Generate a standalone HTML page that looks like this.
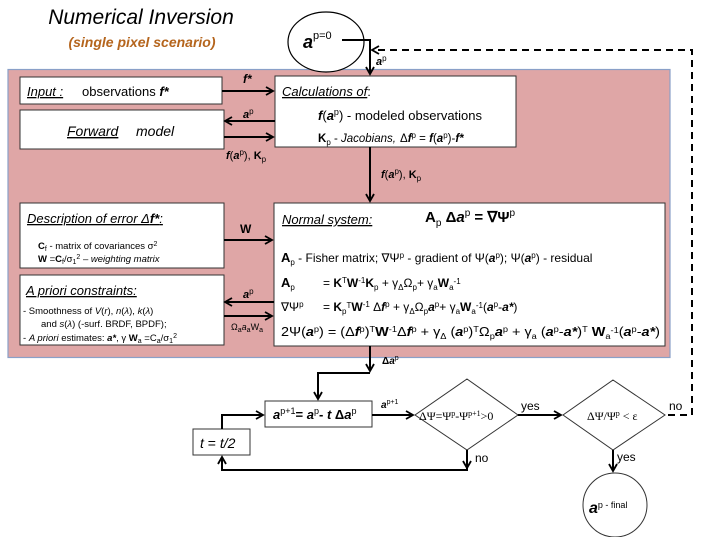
<!DOCTYPE html>
<html><head><meta charset="utf-8"><style>
html,body{margin:0;padding:0;background:#fff;}
svg{display:block;font-family:"Liberation Sans",sans-serif;}
</style></head><body>
<svg width="704" height="537" viewBox="0 0 704 537" xmlns="http://www.w3.org/2000/svg">
<defs>
<marker id="ah" markerWidth="10" markerHeight="10" refX="8" refY="5" orient="auto" markerUnits="userSpaceOnUse">
<path d="M1,1 L8,5 L1,9" fill="none" stroke="#000" stroke-width="1.8"/>
</marker>
</defs>
<text x="141" y="24" font-size="21" font-style="italic" text-anchor="middle">Numerical Inversion</text>
<text x="142" y="47" font-size="14" font-style="italic" font-weight="bold" fill="#b5651d" text-anchor="middle">(single pixel scenario)</text>

<rect x="8" y="69.5" width="662" height="288" fill="#dfa6a6" stroke="#8aa0c8" stroke-width="1.2"/>

<ellipse cx="326" cy="42" rx="38" ry="30" fill="#fff" stroke="#000" stroke-width="1.2"/>
<text x="303" y="48" font-size="18" font-weight="bold" font-style="italic">a<tspan font-size="11" font-weight="normal" font-style="normal" dy="-9">p=0</tspan></text>
<polyline points="342,40 370,40 370,74" fill="none" stroke="#000" stroke-width="2" marker-end="url(#ah)"/>
<text x="376" y="65" font-size="11" font-weight="bold" font-style="italic">a<tspan font-weight="normal" font-style="normal" font-size="8" dy="-4">p</tspan></text>

<polyline points="668,415 692,415 692,50 372,50" fill="none" stroke="#000" stroke-width="2" stroke-dasharray="7,5" marker-end="url(#ah)"/>

<g fill="#fff" stroke="#333" stroke-width="1">
<rect x="20" y="77" width="202" height="27"/>
<rect x="20" y="110" width="204" height="39"/>
<rect x="275" y="76" width="241" height="71"/>
<rect x="20" y="203" width="204" height="65"/>
<rect x="20" y="275" width="204" height="70"/>
<rect x="274" y="203" width="391" height="143"/>
</g>

<text x="27" y="96" font-size="13"><tspan font-style="italic" text-decoration="underline">Input :</tspan><tspan x="82">observations </tspan><tspan font-weight="bold" font-style="italic">f*</tspan></text>
<text x="67" y="136" font-size="14" font-style="italic"><tspan text-decoration="underline">Forward</tspan><tspan x="136">model</tspan></text>
<text x="282" y="96" font-size="13"><tspan font-style="italic" text-decoration="underline">Calculations of</tspan>:</text>
<text x="318" y="120" font-size="13"><tspan font-weight="bold" font-style="italic">f</tspan>(<tspan font-weight="bold" font-style="italic">a</tspan><tspan font-size="9" dy="-5">p</tspan><tspan dy="5">)  - modeled observations</tspan></text>
<text x="318" y="142" font-size="11.5"><tspan font-weight="bold">K</tspan><tspan font-size="8" dy="3">p</tspan><tspan dy="-3"> - </tspan><tspan font-style="italic">Jacobians,</tspan><tspan x="400">Δ</tspan><tspan font-weight="bold" font-style="italic">f</tspan><tspan font-size="8" dy="-4">p</tspan><tspan dy="4"> = </tspan><tspan font-weight="bold" font-style="italic">f</tspan>(<tspan font-weight="bold" font-style="italic">a</tspan><tspan font-size="8" dy="-4">p</tspan><tspan dy="4">)-</tspan><tspan font-weight="bold" font-style="italic">f*</tspan></text>

<text x="27" y="223" font-size="13" font-style="italic" text-decoration="underline">Description of error Δ<tspan font-weight="bold">f*</tspan>:</text>
<text x="38" y="249" font-size="9.5"><tspan font-weight="bold">C</tspan><tspan font-size="7" dy="2">f</tspan><tspan dy="-2"> - matrix of covariances σ</tspan><tspan font-size="7" dy="-3">2</tspan></text>
<text x="38" y="262" font-size="9.5"><tspan font-weight="bold">W</tspan> =<tspan font-weight="bold">C</tspan><tspan font-size="7" dy="2">f</tspan><tspan dy="-2">/σ</tspan><tspan font-size="7" dy="2">1</tspan><tspan font-size="7" dy="-5">2</tspan><tspan dy="3"> – </tspan><tspan font-style="italic">weighting matrix</tspan></text>

<text x="26" y="295" font-size="13" font-style="italic" text-decoration="underline">A priori constraints:</text>
<text x="23" y="314" font-size="9.5">- Smoothness of  <tspan font-style="italic">V</tspan>(<tspan font-style="italic">r</tspan>), <tspan font-style="italic">n</tspan>(<tspan font-style="italic">λ</tspan>), <tspan font-style="italic">k</tspan>(<tspan font-style="italic">λ</tspan>)</text>
<text x="41" y="327" font-size="9.5">and <tspan font-style="italic">s</tspan>(<tspan font-style="italic">λ</tspan>)  (-surf. BRDF, BPDF);</text>
<text x="23" y="341" font-size="9.5">- <tspan font-style="italic">A priori</tspan> estimates: <tspan font-weight="bold" font-style="italic">a*</tspan>, γ  <tspan font-weight="bold">W</tspan><tspan font-size="7" dy="2">a</tspan><tspan dy="-2"> =C</tspan><tspan font-size="7" dy="2">a</tspan><tspan dy="-2">/σ</tspan><tspan font-size="7" dy="2">1</tspan><tspan font-size="7" dy="-5">2</tspan></text>

<text x="282" y="224" font-size="13" font-style="italic" text-decoration="underline">Normal system:</text>
<text x="425" y="222" font-size="15" font-weight="bold">A<tspan font-size="10" dy="4" font-weight="normal">p</tspan><tspan dy="-4"> Δ</tspan><tspan font-style="italic">a</tspan><tspan font-size="10" dy="-6" font-weight="normal">p</tspan><tspan dy="6">  =  ∇Ψ</tspan><tspan font-size="10" dy="-6" font-weight="normal">p</tspan></text>
<text x="281" y="262" font-size="12"><tspan font-weight="bold" font-size="13">A</tspan><tspan font-size="8" dy="3">p</tspan><tspan dy="-3"> - Fisher matrix; ∇Ψ</tspan><tspan font-size="8" dy="-4">p</tspan><tspan dy="4"> - gradient of Ψ(</tspan><tspan font-weight="bold" font-style="italic">a</tspan><tspan font-size="8" dy="-4">p</tspan><tspan dy="4">); Ψ(</tspan><tspan font-weight="bold" font-style="italic">a</tspan><tspan font-size="8" dy="-4">p</tspan><tspan dy="4">) -  residual</tspan></text>
<text x="281" y="287" font-size="12"><tspan font-weight="bold" font-size="13">A</tspan><tspan font-size="8" dy="3">p</tspan><tspan dy="-3" x="323">= </tspan><tspan font-weight="bold">K</tspan><tspan font-size="8" dy="-4">T</tspan><tspan dy="4" font-weight="bold">W</tspan><tspan font-size="8" dy="-4">-1</tspan><tspan dy="4" font-weight="bold">K</tspan><tspan font-size="8" dy="3">p</tspan><tspan dy="-3"> + γ</tspan><tspan font-size="8" dy="3">Δ</tspan><tspan dy="-3">Ω</tspan><tspan font-size="8" dy="3">p</tspan><tspan dy="-3">+ γ</tspan><tspan font-size="8" dy="3">a</tspan><tspan dy="-3" font-weight="bold">W</tspan><tspan font-size="8" dy="3">a</tspan><tspan font-size="8" dy="-6">-1</tspan></text>
<text x="281" y="311" font-size="12"><tspan>∇Ψ</tspan><tspan font-size="8" dy="-4">p</tspan><tspan dy="4" x="323">= </tspan><tspan font-weight="bold">K</tspan><tspan font-size="8" dy="3">p</tspan><tspan font-size="8" dy="-6">T</tspan><tspan dy="3" font-weight="bold">W</tspan><tspan font-size="8" dy="-4">-1</tspan><tspan dy="4"> Δ</tspan><tspan font-weight="bold" font-style="italic">f</tspan><tspan font-size="8" dy="-4">p</tspan><tspan dy="4"> + γ</tspan><tspan font-size="8" dy="3">Δ</tspan><tspan dy="-3">Ω</tspan><tspan font-size="8" dy="3">p</tspan><tspan dy="-3" font-weight="bold" font-style="italic">a</tspan><tspan font-size="8" dy="-4">p</tspan><tspan dy="4">+ γ</tspan><tspan font-size="8" dy="3">a</tspan><tspan dy="-3" font-weight="bold">W</tspan><tspan font-size="8" dy="3">a</tspan><tspan font-size="8" dy="-6">-1</tspan><tspan dy="3">(</tspan><tspan font-weight="bold" font-style="italic">a</tspan><tspan font-size="8" dy="-4">p</tspan><tspan dy="4">-</tspan><tspan font-weight="bold" font-style="italic">a*</tspan>)</text>
<text x="281" y="336" font-size="12.5" textLength="379" lengthAdjust="spacingAndGlyphs">2Ψ(<tspan font-weight="bold" font-style="italic">a</tspan><tspan font-size="8" dy="-4">p</tspan><tspan dy="4">) = (Δ</tspan><tspan font-weight="bold" font-style="italic">f</tspan><tspan font-size="8" dy="-4">p</tspan><tspan dy="4">)</tspan><tspan font-size="8" dy="-4">T</tspan><tspan dy="4" font-weight="bold">W</tspan><tspan font-size="8" dy="-4">-1</tspan><tspan dy="4">Δ</tspan><tspan font-weight="bold" font-style="italic">f</tspan><tspan font-size="8" dy="-4">p</tspan><tspan dy="4"> + γ</tspan><tspan font-size="8" dy="3">Δ</tspan><tspan dy="-3"> (</tspan><tspan font-weight="bold" font-style="italic">a</tspan><tspan font-size="8" dy="-4">p</tspan><tspan dy="4">)</tspan><tspan font-size="8" dy="-4">T</tspan><tspan dy="4">Ω</tspan><tspan font-size="8" dy="3">p</tspan><tspan dy="-3" font-weight="bold" font-style="italic">a</tspan><tspan font-size="8" dy="-4">p</tspan><tspan dy="4"> + γ</tspan><tspan font-size="8" dy="3">a</tspan><tspan dy="-3"> (</tspan><tspan font-weight="bold" font-style="italic">a</tspan><tspan font-size="8" dy="-4">p</tspan><tspan dy="4">-</tspan><tspan font-weight="bold" font-style="italic">a*</tspan>)<tspan font-size="8" dy="-4">T</tspan><tspan dy="4" font-weight="bold"> W</tspan><tspan font-size="8" dy="3">a</tspan><tspan font-size="8" dy="-6">-1</tspan><tspan dy="3">(</tspan><tspan font-weight="bold" font-style="italic">a</tspan><tspan font-size="8" dy="-4">p</tspan><tspan dy="4">-</tspan><tspan font-weight="bold" font-style="italic">a*</tspan>)</text>

<g stroke="#000" stroke-width="2" fill="none">
<line x1="222" y1="91" x2="273" y2="91" marker-end="url(#ah)"/>
<line x1="275" y1="121" x2="225" y2="121" marker-end="url(#ah)"/>
<line x1="224" y1="137" x2="273" y2="137" marker-end="url(#ah)"/>
<line x1="370" y1="147" x2="370" y2="201" marker-end="url(#ah)"/>
<line x1="224" y1="240" x2="272" y2="240" marker-end="url(#ah)"/>
<line x1="274" y1="302" x2="225" y2="302" marker-end="url(#ah)"/>
<line x1="224" y1="316" x2="272" y2="316" marker-end="url(#ah)"/>
<line x1="370" y1="346" x2="370" y2="371" marker-end="url(#ah)"/>
<polyline points="370,373 318,373 318,399" marker-end="url(#ah)"/>
</g>
<text x="243" y="83" font-size="12" font-weight="bold" font-style="italic">f*</text>
<text x="243" y="118" font-size="11" font-weight="bold" font-style="italic">a<tspan font-weight="normal" font-style="normal" font-size="8" dy="-4">p</tspan></text>
<text x="226" y="159" font-size="11"><tspan font-weight="bold" font-style="italic">f</tspan>(<tspan font-weight="bold" font-style="italic">a</tspan><tspan font-size="8" dy="-4">p</tspan><tspan dy="4">), </tspan><tspan font-weight="bold">K</tspan><tspan font-size="8" dy="3">p</tspan></text>
<text x="381" y="178" font-size="11"><tspan font-weight="bold" font-style="italic">f</tspan>(<tspan font-weight="bold" font-style="italic">a</tspan><tspan font-size="8" dy="-4">p</tspan><tspan dy="4">), </tspan><tspan font-weight="bold">K</tspan><tspan font-size="8" dy="3">p</tspan></text>
<text x="240" y="233" font-size="12" font-weight="bold">W</text>
<text x="243" y="298" font-size="11" font-weight="bold" font-style="italic">a<tspan font-weight="normal" font-style="normal" font-size="8" dy="-4">p</tspan></text>
<text x="231" y="330" font-size="9">Ω<tspan font-size="7" dy="2">a</tspan><tspan dy="-2" font-style="italic">a</tspan><tspan font-size="7" dy="2">a</tspan><tspan dy="-2">W</tspan><tspan font-size="7" dy="2">a</tspan></text>
<text x="382" y="364" font-size="10" font-weight="bold">Δ<tspan font-style="italic">a</tspan><tspan font-weight="normal" font-size="7" dy="-4">p</tspan></text>

<g fill="#fff" stroke="#333" stroke-width="1">
<rect x="265" y="401" width="107" height="26"/>
<rect x="193" y="429" width="57" height="26"/>
<polygon points="467,379 518,415 467,450 415,415"/>
<polygon points="613,380 665,415 613,450 563,415"/>
<circle cx="615" cy="505" r="32"/>
</g>
<text x="273" y="419" font-size="13" font-weight="bold" font-style="italic">a<tspan font-size="9" font-style="normal" font-weight="normal" dy="-5">p+1</tspan><tspan dy="5" font-style="normal">= </tspan>a<tspan font-size="9" font-style="normal" font-weight="normal" dy="-5">p</tspan><tspan dy="5" font-style="normal">- </tspan>t<tspan font-style="normal"> Δ</tspan>a<tspan font-size="9" font-style="normal" font-weight="normal" dy="-5">p</tspan></text>
<text x="200" y="448" font-size="14" font-style="italic">t<tspan font-style="normal"> = </tspan>t/2</text>
<text x="419" y="420" font-size="12" font-family="Liberation Serif,serif">ΔΨ=Ψ<tspan font-size="8" dy="-4">p</tspan><tspan dy="4">-Ψ</tspan><tspan font-size="8" dy="-4">p+1</tspan><tspan dy="4">&gt;0</tspan></text>
<text x="587" y="420" font-size="12" font-family="Liberation Serif,serif">ΔΨ/Ψ<tspan font-size="8" dy="-4">p</tspan><tspan dy="4"> &lt; ε</tspan></text>
<text x="589" y="513" font-size="16" font-weight="bold" font-style="italic">a<tspan font-size="9" font-weight="normal" font-style="normal" dy="-5">p - final</tspan></text>

<g stroke="#000" stroke-width="2" fill="none">
<line x1="372" y1="415" x2="413" y2="415" marker-end="url(#ah)"/>
<line x1="518" y1="415" x2="561" y2="415" marker-end="url(#ah)"/>
<line x1="613" y1="450" x2="613" y2="471" marker-end="url(#ah)"/>
<polyline points="467,450 467,470 222,470 222,457" marker-end="url(#ah)"/>
<polyline points="222,429 222,415 263,415" marker-end="url(#ah)"/>
<line x1="467" y1="450" x2="467" y2="468" marker-end="url(#ah)"/>
</g>
<text x="381" y="408" font-size="10" font-weight="bold" font-style="italic">a<tspan font-size="7" font-weight="normal" font-style="normal" dy="-4">p+1</tspan></text>
<text x="521" y="410" font-size="12">yes</text>
<text x="475" y="462" font-size="12">no</text>
<text x="617" y="461" font-size="12">yes</text>
<text x="669" y="410" font-size="12">no</text>
</svg>
</body></html>
